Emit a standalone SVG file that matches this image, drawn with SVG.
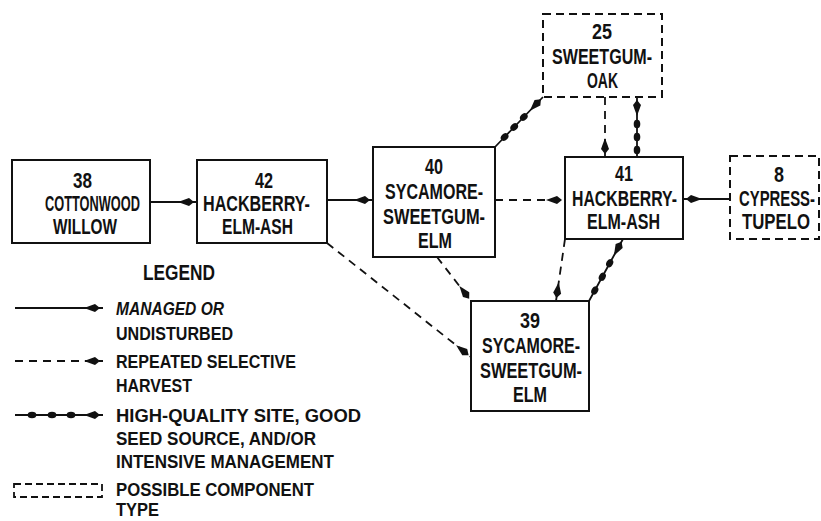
<svg xmlns="http://www.w3.org/2000/svg" width="821" height="521" viewBox="0 0 821 521">
<defs>
<style>
.box{fill:#fff;stroke:#111;stroke-width:2}
.dbox{fill:#fff;stroke:#111;stroke-width:2;stroke-dasharray:8 5}
.t{font-family:"Liberation Sans",Arial,sans-serif;font-weight:bold;font-size:22px;fill:#111}
.lt{font-family:"Liberation Sans",Arial,sans-serif;font-weight:bold;font-size:19px;fill:#111}
.ln{fill:none;stroke:#111;stroke-width:1.8}
.sol{marker-end:url(#ah)}
.das{stroke-dasharray:8 6;marker-end:url(#ah)}
.bead{marker-mid:url(#bd);marker-end:url(#ah)}
</style>
<marker id="ah" viewBox="-17 -5 23 10" refX="3" refY="0" markerWidth="23" markerHeight="10" markerUnits="userSpaceOnUse" orient="auto">
<path d="M0,0 L-5,-4 L-16,0 L-5,4 Z" fill="#111"/>
</marker>
<marker id="bd" viewBox="-5 -4 10 8" refX="0" refY="0" markerWidth="10" markerHeight="8" markerUnits="userSpaceOnUse" orient="auto">
<ellipse cx="0" cy="0" rx="4.3" ry="3.3" fill="#111"/>
</marker>
</defs>
<rect width="821" height="521" fill="#fff"/>

<g id="connectors">
<path class="ln sol" d="M150,202 L197,202"/>
<path class="ln sol" d="M327,200 L373,200"/>
<path class="ln das" d="M495,200 L565,200"/>
<path class="ln sol" d="M730,199 L683,199"/>
<polyline class="ln bead" points="495,147 504.6,137 514.2,127 523.8,117 543,97"/>
<path class="ln das" d="M605,97 L605,157"/>
<polyline class="ln bead" points="637,157 637,150 637,137 637,124 637,97"/>
<path class="ln das" d="M437,257 L471,301"/>
<path class="ln das" d="M327,243 L471,357"/>
<path class="ln das" d="M565,239 L556,301"/>
<polyline class="ln bead" points="589,301 594.8,290.5 602.3,276.8 609.7,263.2 623,239"/>
</g>

<g id="n38">
<rect class="box" x="12" y="160" width="138" height="83"/>
<text class="t" x="73" y="188" textLength="19" lengthAdjust="spacingAndGlyphs">38</text>
<text class="t" x="45" y="211" textLength="95" lengthAdjust="spacingAndGlyphs">COTTONWOOD</text>
<text class="t" x="53" y="234" textLength="64" lengthAdjust="spacingAndGlyphs">WILLOW</text>
</g>
<g id="n42">
<rect class="box" x="197" y="160" width="130" height="83"/>
<text class="t" x="255" y="188" textLength="18" lengthAdjust="spacingAndGlyphs">42</text>
<text class="t" x="203" y="211" textLength="107" lengthAdjust="spacingAndGlyphs">HACKBERRY-</text>
<text class="t" x="222" y="234" textLength="71" lengthAdjust="spacingAndGlyphs">ELM-ASH</text>
</g>
<g id="n40">
<rect class="box" x="373" y="147" width="122" height="110"/>
<text class="t" x="425" y="174" textLength="18" lengthAdjust="spacingAndGlyphs">40</text>
<text class="t" x="385" y="199" textLength="98" lengthAdjust="spacingAndGlyphs">SYCAMORE-</text>
<text class="t" x="383" y="224" textLength="102" lengthAdjust="spacingAndGlyphs">SWEETGUM-</text>
<text class="t" x="418" y="248" textLength="34" lengthAdjust="spacingAndGlyphs">ELM</text>
</g>
<g id="n25">
<rect class="dbox" x="543" y="14" width="119" height="83"/>
<text class="t" x="592" y="39" textLength="20" lengthAdjust="spacingAndGlyphs">25</text>
<text class="t" x="552" y="64" textLength="100" lengthAdjust="spacingAndGlyphs">SWEETGUM-</text>
<text class="t" x="587" y="88" textLength="31" lengthAdjust="spacingAndGlyphs">OAK</text>
</g>
<g id="n41">
<rect class="box" x="565" y="157" width="118" height="82"/>
<text class="t" x="615" y="181" textLength="18" lengthAdjust="spacingAndGlyphs">41</text>
<text class="t" x="572" y="206" textLength="105" lengthAdjust="spacingAndGlyphs">HACKBERRY-</text>
<text class="t" x="587" y="229" textLength="73" lengthAdjust="spacingAndGlyphs">ELM-ASH</text>
</g>
<g id="n8">
<rect class="dbox" x="730" y="156" width="89" height="83"/>
<text class="t" x="774" y="182" textLength="10" lengthAdjust="spacingAndGlyphs">8</text>
<text class="t" transform="translate(739,206) scale(0.68,1)" x="0" y="0" textLength="111.7" lengthAdjust="spacingAndGlyphs">CYPRESS-</text>
<text class="t" transform="translate(742,229) scale(0.68,1)" x="0" y="0" textLength="100" lengthAdjust="spacingAndGlyphs">TUPELO</text>
</g>
<g id="n39">
<rect class="box" x="471" y="301" width="118" height="110"/>
<text class="t" x="520" y="328" textLength="20" lengthAdjust="spacingAndGlyphs">39</text>
<text class="t" x="482" y="353" textLength="98" lengthAdjust="spacingAndGlyphs">SYCAMORE-</text>
<text class="t" x="480" y="378" textLength="102" lengthAdjust="spacingAndGlyphs">SWEETGUM-</text>
<text class="t" x="513" y="402" textLength="34" lengthAdjust="spacingAndGlyphs">ELM</text>
</g>

<g id="legend">
<text class="t" x="143" y="280" textLength="72" lengthAdjust="spacingAndGlyphs">LEGEND</text>
<path class="ln sol" d="M15,308 L103,308"/>
<text class="lt" x="116" y="315" font-style="italic" textLength="108" lengthAdjust="spacingAndGlyphs">MANAGED OR</text>
<text class="lt" x="116" y="340" textLength="117" lengthAdjust="spacingAndGlyphs">UNDISTURBED</text>
<path class="ln das" d="M15,361 L103,361"/>
<text class="lt" x="116" y="368" textLength="180" lengthAdjust="spacingAndGlyphs">REPEATED SELECTIVE</text>
<text class="lt" x="116" y="392" textLength="76" lengthAdjust="spacingAndGlyphs">HARVEST</text>
<polyline class="ln bead" points="15,415 32,415 52,415 71,415 103,415"/>
<text class="lt" x="116" y="422" textLength="245" lengthAdjust="spacingAndGlyphs">HIGH-QUALITY SITE, GOOD</text>
<text class="lt" x="116" y="445" textLength="200" lengthAdjust="spacingAndGlyphs">SEED SOURCE, AND/OR</text>
<text class="lt" x="116" y="468" textLength="218" lengthAdjust="spacingAndGlyphs">INTENSIVE MANAGEMENT</text>
<rect x="14" y="484" width="88" height="13" fill="none" stroke="#111" stroke-width="1.8" stroke-dasharray="7 4"/>
<text class="lt" x="116" y="496" textLength="198" lengthAdjust="spacingAndGlyphs">POSSIBLE COMPONENT</text>
<text class="lt" x="116" y="516" textLength="43" lengthAdjust="spacingAndGlyphs">TYPE</text>
</g>
</svg>
